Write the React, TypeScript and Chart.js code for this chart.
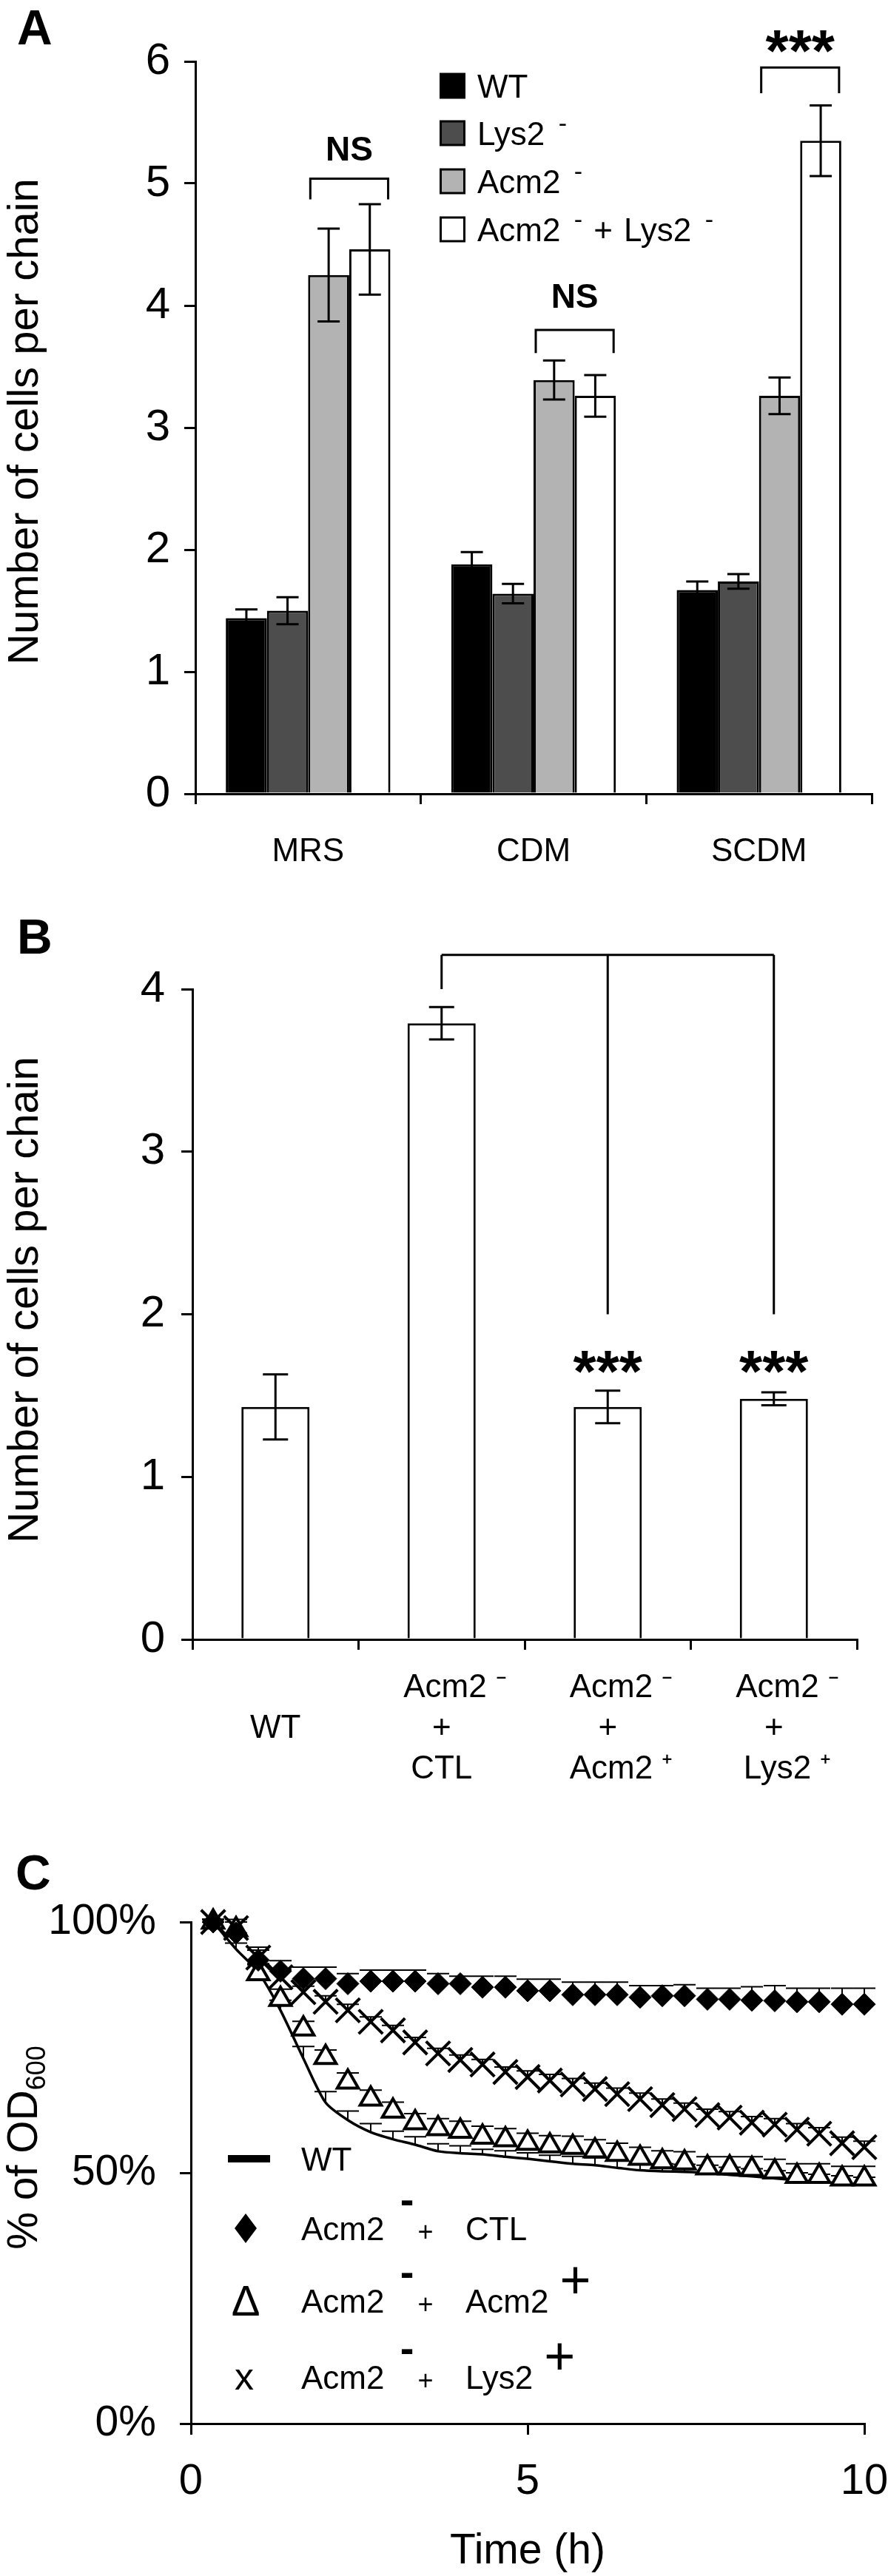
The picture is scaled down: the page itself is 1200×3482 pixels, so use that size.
import React, { useEffect, useRef } from 'react';
import { Chart, registerables } from 'chart.js';

Chart.register(...registerables);

const FONT = "'Liberation Sans', Arial, Helvetica, sans-serif";
Chart.defaults.font.family = FONT;
Chart.defaults.color = '#000';

// ---------------- Panel A data ----------------
const mediaA = ['MRS', 'CDM', 'SCDM'];
const seriesNamesA = ['WT', 'Lys2', 'Acm2', 'Acm2 + Lys2'];
const wtA = [1.44, 1.88, 1.67];
const wtAErr = [0.07, 0.10, 0.07];
const lys2A = [1.50, 1.64, 1.74];
const lys2AErr = [0.11, 0.08, 0.06];
const acm2A = [4.25, 3.39, 3.26];
const acm2AErr = [0.38, 0.16, 0.15];
const acm2Lys2A = [4.46, 3.26, 5.35];
const acm2Lys2AErr = [0.37, 0.17, 0.29];
const colorsA = ['#000000', '#4d4d4d', '#b3b3b3', '#ffffff'];
// significance brackets (category, bracket top, leg end, label centre, label)
const sigCatA = [0, 1, 2];
const sigTopA = [5.04, 3.80, 5.95];
const sigLegA = [4.87, 3.61, 5.74];
const sigLabelYA = [5.29, 4.08, 6.2];
const sigTextA = ['NS', 'NS', '***'];

// ---------------- Panel B data ----------------
const groupsB = [
  ['', 'WT', ''],
  ['   Acm2 \u207B', '+', 'CTL'],
  ['   Acm2 \u207B', '+', '   Acm2 \u207A'],
  ['   Acm2 \u207B', '+', '   Lys2 \u207A'],
];
const chainB = [1.43, 3.79, 1.43, 1.48];
const chainBErr = [0.20, 0.10, 0.10, 0.04];
const bracketTopB = 4.21;
const bracketCatsB = [1, 2, 3];
const bracketLegsB = [4.0, 2.0, 2.0];
const starCatsB = [2, 3];
const starYB = 1.73;

// ---------------- Panel C data ----------------
const timeH = [0.33, 0.67, 1.0, 1.33, 1.67, 2.0, 2.33, 2.67, 3.0, 3.33, 3.67, 4.0, 4.33, 4.67, 5.0,
  5.33, 5.67, 6.0, 6.33, 6.67, 7.0, 7.33, 7.67, 8.0, 8.33, 8.67, 9.0, 9.33, 9.67, 10.0];
const wtC = [100, 94.6, 90.0, 82.4, 72.8, 64.0, 60.5, 58.1, 56.7, 55.6, 54.3, 53.9, 53.7, 53.2, 52.8,
  52.3, 51.8, 51.5, 51.0, 50.5, 50.3, 50.2, 50.0, 49.6, 49.3, 48.9, 48.5, 48.2, 47.9, 47.6];
const wtCErr = [0.5, 1.2, 1.5, 2.0, 2.4, 2.2, 1.8, 1.7, 1.6, 1.6, 1.5, 1.5, 1.0, 1.2, 1.2,
  1.2, 1.5, 1.5, 1.5, 1.5, 1.5, 1.5, 1.5, 1.5, 1.5, 1.5, 1.5, 1.5, 1.5, 1.5];
const ctlC = [100, 97.8, 92.4, 90.2, 88.7, 88.7, 87.7, 88.2, 88.2, 88.2, 87.7, 87.7, 87.0, 87.0, 86.3,
  86.3, 85.5, 85.5, 85.5, 85.0, 85.3, 85.3, 84.6, 84.6, 84.4, 84.3, 84.1, 84.1, 83.6, 83.6];
const ctlCErr = [0.5, 2.7, 2.6, 2.1, 2.3, 2.3, 2.0, 2.2, 2.2, 2.2, 2.0, 1.5, 2.2, 2.2, 2.3,
  2.3, 2.5, 2.5, 2.5, 2.3, 2.0, 2.2, 2.2, 2.2, 2.7, 3.0, 2.7, 2.7, 3.2, 3.2];
const triC = [100, 98.5, 89.7, 84.6, 78.7, 73.0, 68.1, 64.7, 62.3, 60.0, 58.8, 58.3, 57.1, 56.6, 55.9,
  55.4, 55.1, 54.4, 53.7, 52.9, 52.2, 52.0, 51.0, 51.0, 50.7, 50.2, 49.3, 49.3, 48.8, 48.8];
const triCErr = [0.5, 1.5, 2.0, 2.0, 1.5, 1.5, 1.8, 1.8, 1.8, 1.8, 2.0, 2.0, 2.2, 2.2, 2.0,
  2.0, 2.2, 2.2, 2.2, 2.2, 2.2, 2.2, 2.2, 2.2, 2.5, 2.5, 2.5, 2.5, 2.5, 2.5];
const xC = [100, 98.8, 92.9, 89.0, 86.0, 84.1, 82.4, 80.1, 78.4, 76.0, 73.8, 72.5, 71.6, 70.1, 69.1,
  68.4, 67.6, 66.7, 65.7, 64.7, 63.5, 62.7, 61.5, 61.0, 60.0, 59.6, 58.6, 57.8, 55.9, 55.1];
const xCErr = [0.5, 1.2, 1.5, 1.5, 1.2, 1.2, 1.2, 1.0, 1.0, 1.0, 1.0, 1.0, 1.0, 1.0, 1.2,
  1.2, 1.2, 1.2, 1.2, 1.2, 1.2, 1.2, 1.2, 1.2, 1.2, 1.2, 1.2, 1.2, 1.2, 1.2];
const xTicksC = [0, 5, 10];
const yTicksC = [0, 50, 100];

// ---------------- helpers ----------------
const common: any = {
  responsive: false,
  animation: false,
  devicePixelRatio: 1,
  events: [],
  plugins: { legend: { display: false }, tooltip: { enabled: false } },
};

function axisGrid(tickLength: number) {
  return { drawOnChartArea: false, color: '#000', lineWidth: 3, tickLength, drawTicks: true };
}
const axisBorder = { display: true, color: '#000', width: 3 };

function errorBars(errs: (number[] | null)[], o: { plus?: boolean; cap: number; lw: number; before?: boolean }) {
  const draw = (chart: any) => {
    const ctx = chart.ctx;
    const ys = chart.scales.y;
    ctx.save();
    ctx.strokeStyle = '#000';
    ctx.lineWidth = o.lw;
    errs.forEach((e, di) => {
      if (!e) return;
      const meta = chart.getDatasetMeta(di);
      const raw = chart.data.datasets[di].data;
      meta.data.forEach((el: any, i: number) => {
        const r = raw[i];
        const v = typeof r === 'number' ? r : r.y;
        const x = el.x;
        const top = ys.getPixelForValue(v + e[i]);
        const bot = ys.getPixelForValue(o.plus ? v : v - e[i]);
        ctx.beginPath();
        ctx.moveTo(x, top);
        ctx.lineTo(x, bot);
        ctx.moveTo(x - o.cap / 2, top);
        ctx.lineTo(x + o.cap / 2, top);
        if (!o.plus) {
          ctx.moveTo(x - o.cap / 2, bot);
          ctx.lineTo(x + o.cap / 2, bot);
        }
        ctx.stroke();
      });
    });
    ctx.restore();
  };
  return {
    id: 'errBars',
    beforeDatasetsDraw: (c: any) => { if (o.before) draw(c); },
    afterDatasetsDraw: (c: any) => { if (!o.before) draw(c); },
  };
}

function text(ctx: any, s: string, x: number, y: number, font: string, align: string = 'left') {
  ctx.font = font;
  ctx.textAlign = align;
  ctx.textBaseline = 'alphabetic';
  ctx.fillText(s, x, y);
}

function rotText(ctx: any, s: string, x: number, y: number, font: string) {
  ctx.save();
  ctx.translate(x, y);
  ctx.rotate(-Math.PI / 2);
  text(ctx, s, 0, 0, font, 'center');
  ctx.restore();
}

// ---------------- Panel A ----------------
function configA(): any {
  const legendRows = [116, 180, 245, 310];
  const deco = {
    id: 'decoA',
    afterDraw(chart: any) {
      const ctx = chart.ctx;
      const ys = chart.scales.y;
      ctx.save();
      ctx.fillStyle = '#000';
      ctx.strokeStyle = '#000';
      text(ctx, 'A', 23, 60, `bold 66px ${FONT}`);
      rotText(ctx, 'Number of cells per chain', 51, 570, `58px ${FONT}`);
      // legend
      legendRows.forEach((ry, i) => {
        ctx.fillStyle = colorsA[i];
        ctx.fillRect(595.5, ry - 16, 32, 32);
        ctx.lineWidth = 3;
        ctx.strokeStyle = '#000';
        ctx.strokeRect(595.5, ry - 16, 32, 32);
      });
      ctx.fillStyle = '#000';
      const f = `44px ${FONT}`;
      const sup = `34px ${FONT}`;
      text(ctx, seriesNamesA[0], 645, legendRows[0] + 16, f);
      text(ctx, seriesNamesA[1], 645, legendRows[1] + 16, f);
      ctx.font = f;
      const wLys = ctx.measureText('Lys2').width;
      const wAcm = ctx.measureText('Acm2').width;
      text(ctx, '-', 645 + wLys + 24, legendRows[1] - 2, sup, 'center');
      text(ctx, seriesNamesA[2], 645, legendRows[2] + 16, f);
      text(ctx, '-', 645 + wAcm + 24, legendRows[2] - 2, sup, 'center');
      text(ctx, 'Acm2', 645, legendRows[3] + 16, f);
      text(ctx, '-', 645 + wAcm + 24, legendRows[3] - 2, sup, 'center');
      text(ctx, '+', 815, legendRows[3] + 16, f, 'center');
      text(ctx, 'Lys2', 843, legendRows[3] + 16, f);
      text(ctx, '-', 843 + wLys + 24, legendRows[3] - 2, sup, 'center');
      // brackets
      const mA = chart.getDatasetMeta(2);
      const mAL = chart.getDatasetMeta(3);
      ctx.lineWidth = 3;
      ctx.lineJoin = 'miter';
      sigCatA.forEach((c, i) => {
        const b1 = mA.data[c];
        const b2 = mAL.data[c];
        const l = b1.x - b1.width / 2 + 3;
        const r = b2.x + b2.width / 2 - 3;
        const yt = ys.getPixelForValue(sigTopA[i]);
        const yl = ys.getPixelForValue(sigLegA[i]);
        ctx.beginPath();
        ctx.moveTo(l, yl);
        ctx.lineTo(l, yt);
        ctx.lineTo(r, yt);
        ctx.lineTo(r, yl);
        ctx.stroke();
        const cy = ys.getPixelForValue(sigLabelYA[i]);
        const star = sigTextA[i].startsWith('*');
        if (star) text(ctx, sigTextA[i], (l + r) / 2, cy + 0.57 * 80, `bold 80px ${FONT}`, 'center');
        else text(ctx, sigTextA[i], (l + r) / 2, cy + 0.358 * 46, `bold 46px ${FONT}`, 'center');
      });
      ctx.restore();
    },
  };
  const ds = (label: string, data: number[], color: string) => ({
    label, data, backgroundColor: color, borderColor: '#000', borderWidth: 3,
  });
  return {
    type: 'bar',
    data: {
      labels: mediaA,
      datasets: [
        ds(seriesNamesA[0], wtA, colorsA[0]),
        ds(seriesNamesA[1], lys2A, colorsA[1]),
        ds(seriesNamesA[2], acm2A, colorsA[2]),
        ds(seriesNamesA[3], acm2Lys2A, colorsA[3]),
      ],
    },
    options: {
      ...common,
      layout: { padding: { top: 83, right: 22, left: 0, bottom: 0 } },
      datasets: { bar: { categoryPercentage: 0.73, barPercentage: 1.0 } },
      scales: {
        x: {
          grid: { ...axisGrid(14), offset: true },
          border: axisBorder,
          ticks: { color: '#000', font: { size: 44 }, padding: 38 },
          afterFit: (s: any) => { s.height = 117; s.paddingLeft = 0; s.paddingRight = 0; },
        },
        y: {
          min: 0, max: 6,
          grid: axisGrid(15),
          border: axisBorder,
          ticks: { stepSize: 1, color: '#000', font: { size: 60 }, padding: 19 },
          afterFit: (s: any) => { s.width = 264; },
        },
      },
    },
    plugins: [errorBars([wtAErr, lys2AErr, acm2AErr, acm2Lys2AErr], { cap: 30, lw: 3 }), deco],
  };
}

// ---------------- Panel B ----------------
function configB(): any {
  const deco = {
    id: 'decoB',
    afterDraw(chart: any) {
      const ctx = chart.ctx;
      const ys = chart.scales.y;
      const meta = chart.getDatasetMeta(0);
      ctx.save();
      ctx.fillStyle = '#000';
      ctx.strokeStyle = '#000';
      text(ctx, 'B', 23, 99, `bold 66px ${FONT}`);
      rotText(ctx, 'Number of cells per chain', 51, 567, `58px ${FONT}`);
      ctx.lineWidth = 3;
      const yt = ys.getPixelForValue(bracketTopB);
      const xs = bracketCatsB.map((c) => meta.data[c].x);
      ctx.beginPath();
      ctx.moveTo(xs[0], yt);
      ctx.lineTo(xs[xs.length - 1], yt);
      bracketCatsB.forEach((c, i) => {
        ctx.moveTo(xs[i], yt);
        ctx.lineTo(xs[i], ys.getPixelForValue(bracketLegsB[i]));
      });
      ctx.stroke();
      starCatsB.forEach((c) => {
        text(ctx, '***', meta.data[c].x, ys.getPixelForValue(starYB) + 0.57 * 80, `bold 80px ${FONT}`, 'center');
      });
      ctx.restore();
    },
  };
  return {
    type: 'bar',
    data: {
      labels: groupsB,
      datasets: [{ label: 'cells', data: chainB, backgroundColor: '#fff', borderColor: '#000', borderWidth: 3 }],
    },
    options: {
      ...common,
      layout: { padding: { top: 147, right: 42, left: 0, bottom: 0 } },
      datasets: { bar: { categoryPercentage: 1.0, barPercentage: 0.41 } },
      scales: {
        x: {
          grid: { ...axisGrid(14), offset: true },
          border: axisBorder,
          ticks: { color: '#000', font: { size: 44, lineHeight: 1.25 }, padding: 24, maxRotation: 0 },
          afterFit: (s: any) => { s.height = 214; s.paddingLeft = 0; s.paddingRight = 0; },
        },
        y: {
          min: 0, max: 4,
          grid: axisGrid(15),
          border: axisBorder,
          ticks: { stepSize: 1, color: '#000', font: { size: 60 }, padding: 22 },
          afterFit: (s: any) => { s.width = 260; },
        },
      },
    },
    plugins: [errorBars([chainBErr], { cap: 34, lw: 3 }), deco],
  };
}

// ---------------- Panel C ----------------
function configC(): any {
  const pts = (vals: number[]) => timeH.map((t, i) => ({ x: t, y: vals[i] }));
  const rows = [488, 582, 680, 783];
  const deco = {
    id: 'decoC',
    afterDraw(chart: any) {
      const ctx = chart.ctx;
      ctx.save();
      ctx.fillStyle = '#000';
      text(ctx, 'C', 21, 124, `bold 66px ${FONT}`);
      // y title with subscript
      ctx.save();
      ctx.translate(50, 473);
      ctx.rotate(-Math.PI / 2);
      ctx.font = `57px ${FONT}`;
      const w1 = ctx.measureText('% of OD').width;
      ctx.font = `36px ${FONT}`;
      const w2 = ctx.measureText('600').width;
      const u0 = -(w1 + w2) / 2;
      text(ctx, '% of OD', u0, 0, `57px ${FONT}`);
      text(ctx, '600', u0 + w1, 11, `36px ${FONT}`);
      ctx.restore();
      // legend
      const f = `44px ${FONT}`;
      ctx.fillRect(308, rows[0] - 5, 57, 10);
      text(ctx, 'WT', 407, rows[0] + 16, f);
      ctx.beginPath();
      ctx.moveTo(332, rows[1] - 20);
      ctx.lineTo(347, rows[1]);
      ctx.lineTo(332, rows[1] + 20);
      ctx.lineTo(317, rows[1]);
      ctx.closePath();
      ctx.fill();
      text(ctx, '\u0394', 332, rows[2] + 20, `58px ${FONT}`, 'center');
      text(ctx, 'x', 330, rows[3] + 17, `52px ${FONT}`, 'center');
      const second = ['CTL', 'Acm2', 'Lys2'];
      [1, 2, 3].forEach((ri, k) => {
        const ry = rows[ri];
        text(ctx, 'Acm2', 407, ry + 16, f);
        text(ctx, '-', 550, ry - 35 + 15, `bold 56px ${FONT}`, 'center');
        text(ctx, '+', 575, ry + 17, `36px ${FONT}`, 'center');
        text(ctx, second[k], 629, ry + 16, f);
        if (k > 0) {
          ctx.font = f;
          const w = ctx.measureText(second[k]).width;
          text(ctx, '+', 629 + w + 36, ry - 28 + 0.34 * 72, `72px ${FONT}`, 'center');
        }
      });
      ctx.restore();
    },
  };
  return {
    type: 'line',
    data: {
      datasets: [
        { label: 'WT', data: pts(wtC), borderColor: '#000', borderWidth: 3.5, pointRadius: 0, tension: 0.25, fill: false, order: 9, clip: false },
        { label: 'Acm2- + CTL', data: pts(ctlC), showLine: false, pointStyle: 'rectRot', pointRadius: 15, backgroundColor: '#000', borderColor: '#000', borderWidth: 1, order: 1, clip: false },
        { label: 'Acm2- + Acm2+', data: pts(triC), showLine: false, pointStyle: 'triangle', pointRadius: 16.5, backgroundColor: '#fff', borderColor: '#000', borderWidth: 4, order: 2, clip: false },
        { label: 'Acm2- + Lys2+', data: pts(xC), showLine: false, pointStyle: 'crossRot', pointRadius: 23, backgroundColor: '#000', borderColor: '#000', borderWidth: 4, order: 3, clip: false },
      ],
    },
    options: {
      ...common,
      layout: { padding: { top: 168, right: 32, left: 0, bottom: 0 } },
      scales: {
        x: {
          type: 'linear', min: xTicksC[0], max: xTicksC[xTicksC.length - 1],
          grid: axisGrid(15),
          border: axisBorder,
          ticks: { stepSize: xTicksC[1] - xTicksC[0], color: '#000', font: { size: 58 }, padding: 29 },
          title: { display: true, text: 'Time (h)', color: '#000', font: { size: 57, lineHeight: 1 }, padding: { top: 0, bottom: 4 } },
          afterFit: (s: any) => { s.height = 206; s.paddingLeft = 0; s.paddingRight = 0; },
        },
        y: {
          min: yTicksC[0], max: yTicksC[yTicksC.length - 1],
          grid: axisGrid(15),
          border: axisBorder,
          ticks: { stepSize: yTicksC[1] - yTicksC[0], color: '#000', font: { size: 57 }, padding: 32, callback: (v: any) => v + '%' },
          afterFit: (s: any) => { s.width = 258; },
        },
      },
    },
    plugins: [errorBars([wtCErr, ctlCErr, triCErr, xCErr], { plus: true, cap: 30, lw: 2, before: true }), deco],
  };
}

export default function App() {
  const refA = useRef<HTMLCanvasElement>(null);
  const refB = useRef<HTMLCanvasElement>(null);
  const refC = useRef<HTMLCanvasElement>(null);
  useEffect(() => {
    const charts = [
      new Chart(refA.current as HTMLCanvasElement, configA()),
      new Chart(refB.current as HTMLCanvasElement, configB()),
      new Chart(refC.current as HTMLCanvasElement, configC()),
    ];
    return () => charts.forEach((c) => c.destroy());
  }, []);
  const cs = (h: number) => ({ display: 'block', width: 1200, height: h });
  return (
    <div style={{ position: 'absolute', left: 0, top: 0, width: 1200, height: 3482, background: '#fff', overflow: 'hidden' }}>
      <canvas ref={refA} width={1200} height={1190} style={cs(1190)} />
      <canvas ref={refB} width={1200} height={1240} style={cs(1240)} />
      <canvas ref={refC} width={1200} height={1052} style={cs(1052)} />
    </div>
  );
}
